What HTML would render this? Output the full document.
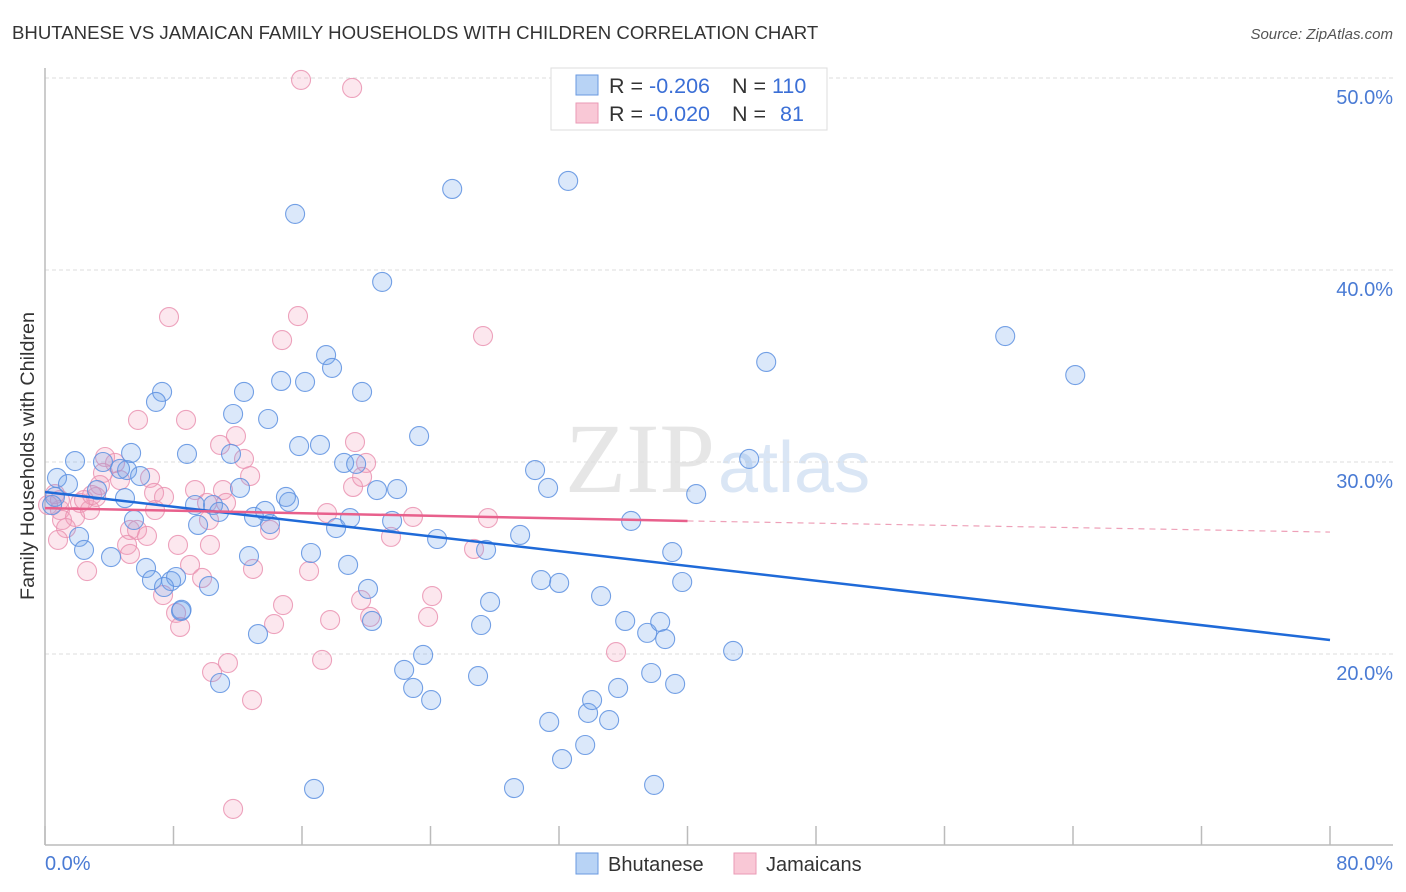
<!DOCTYPE html>
<html><head><meta charset="utf-8"><style>
body{margin:0;background:#fff;font-family:"Liberation Sans",sans-serif;}
svg{display:block}
</style></head><body>
<svg id="c" width="1406" height="892" xmlns="http://www.w3.org/2000/svg">
<text x="12" y="39" font-size="18.6" fill="#333">BHUTANESE VS JAMAICAN FAMILY HOUSEHOLDS WITH CHILDREN CORRELATION CHART</text>
<text x="1393" y="39" font-size="15" fill="#555" font-style="italic" text-anchor="end">Source: ZipAtlas.com</text>
<text x="640" y="492" font-size="100" fill="#e6e6e6" font-family="Liberation Serif,serif" text-anchor="middle">ZIP</text>
<text x="718" y="492" font-size="72" fill="#dae6f5">atlas</text>
<g id="grid"></g>
<g id="axes"></g>
<g id="pts"></g>
<g id="trends"></g>
<text transform="translate(34,456) rotate(-90)" font-size="19.8" fill="#333" text-anchor="middle">Family Households with Children</text>
<g>
<rect x="551" y="68" width="276" height="62" fill="#fff" stroke="#ddd"/>
<rect x="576" y="75" width="22" height="20" fill="#b8d3f5" stroke="#6a9ae0"/>
<rect x="576" y="103" width="22" height="20" fill="#f9c8d6" stroke="#ea9ab5"/>
<text x="609" y="93" font-size="21.5" fill="#333">R = <tspan fill="#3b6fd6">-0.206</tspan><tspan x="732">N = </tspan><tspan fill="#3b6fd6">110</tspan></text>
<text x="609" y="121" font-size="21.5" fill="#333">R = <tspan fill="#3b6fd6">-0.020</tspan><tspan x="732">N = </tspan><tspan x="780" fill="#3b6fd6">81</tspan></text>
</g>
<g>
<rect x="576" y="853" width="22" height="21" fill="#b8d3f5" stroke="#6a9ae0"/>
<text x="608" y="871" font-size="20" fill="#333">Bhutanese</text>
<rect x="734" y="853" width="22" height="21" fill="#f9c8d6" stroke="#ea9ab5"/>
<text x="766" y="871" font-size="20" fill="#333">Jamaicans</text>
</g>
</svg>
<script>
const xTicks=[0,10,20,30,40,50,60,70,80];
const yTicks=[20,30,40,50];
const yTickLabels=["20.0%","30.0%","40.0%","50.0%"];
const blueX=[0.75,1.43,0.62,0.44,1.87,2.12,2.43,4.11,3.61,3.24,5.11,4.67,5.36,5.92,4.98,5.54,7.29,6.91,8.84,6.29,6.66,7.85,8.16,7.41,8.47,10.21,9.34,9.53,10.46,10.84,11.58,12.14,11.71,12.39,13.89,12.7,13.26,10.9,13.01,13.7,14.01,15.19,15.0,14.7,16.19,15.82,17.12,17.5,17.87,15.57,16.56,18.12,18.87,18.99,18.62,19.37,19.74,20.11,20.36,20.67,21.92,21.61,20.99,23.29,22.36,23.54,22.92,24.04,24.41,25.35,26.96,27.15,27.46,27.71,29.58,30.51,31.32,30.89,32.01,31.39,32.19,32.57,33.63,33.81,34.06,34.62,35.12,35.68,36.12,37.49,38.3,38.61,37.74,39.05,39.23,39.67,36.49,40.54,42.84,43.84,44.9,59.78,64.14,16.75,29.2,37.92,8.5];
const blueY=[29.17,28.85,28.18,27.76,30.05,26.1,25.42,25.05,30.0,28.54,29.58,29.64,30.47,29.27,28.12,26.98,33.65,33.13,30.42,24.48,23.85,23.8,24.01,23.49,22.24,23.54,27.76,26.72,27.76,27.4,30.42,28.65,32.5,33.65,32.24,25.1,21.04,18.49,27.14,27.45,26.77,27.92,28.18,34.22,34.17,30.83,30.89,35.57,34.9,42.92,25.26,26.56,24.64,27.08,29.95,29.9,33.65,23.39,21.72,28.54,28.59,26.93,39.38,31.35,19.17,19.95,18.23,17.6,25.99,44.22,18.85,21.51,25.42,22.71,26.2,29.58,28.65,23.85,23.7,16.46,14.53,44.64,15.26,16.93,17.6,23.02,16.56,18.23,21.72,21.1,21.67,20.78,19.01,25.31,18.44,23.75,26.93,28.33,20.16,30.16,35.21,36.56,34.53,12.97,13.02,13.18,22.3];
const pinkX=[15.94,19.12,7.72,15.75,14.76,27.27,5.79,8.78,11.89,10.9,12.39,19.3,19.99,12.77,3.74,4.36,3.61,6.54,6.79,7.41,9.34,11.08,11.27,10.09,5.29,5.73,6.35,5.11,8.28,5.29,0.93,1.06,1.87,2.18,2.8,3.18,1.31,0.81,2.62,2.43,9.03,9.78,7.35,8.16,8.41,10.4,11.39,10.21,12.95,14.82,14.26,16.44,17.75,17.25,19.18,17.56,19.74,21.54,22.91,24.1,23.85,19.68,20.24,26.71,27.58,35.55,12.89,11.71,0.62,0.93,0.19,6.85,10.27,14.01,3.42,2.93,4.67];
const pinkY=[49.9,49.48,37.55,37.6,36.35,36.56,32.19,32.19,31.35,30.89,30.16,31.04,29.95,29.27,30.26,29.95,29.43,29.17,28.39,28.18,28.54,28.54,27.87,27.87,26.46,26.46,26.15,25.68,25.68,25.21,27.5,26.98,27.14,27.87,27.5,28.18,26.56,25.94,24.32,28.02,24.64,23.96,23.07,22.14,21.41,19.06,19.53,26.98,24.43,22.55,21.56,24.32,21.77,19.69,28.7,27.34,29.22,26.1,27.14,23.02,21.93,22.81,21.93,25.47,27.08,20.1,17.6,11.93,28.33,28.02,27.76,27.5,25.68,26.46,28.8,28.28,29.06];
const blueTrend=[0,28.44,80,20.73];
const pinkTrend=[0,27.6,40,26.93,80,26.35];
const NS="http://www.w3.org/2000/svg";
const X=v=>45+v*16.0625, Y=v=>78+(50-v)*19.2;
function mk(tag,at,parent){const e=document.createElementNS(NS,tag);for(const k in at)e.setAttribute(k,at[k]);parent.appendChild(e);return e;}
const grid=document.getElementById('grid'),axes=document.getElementById('axes'),pts=document.getElementById('pts'),tr=document.getElementById('trends');
yTicks.forEach((t,i)=>{
 const l=mk('line',{x1:45,x2:1393,y1:Y(t),y2:Y(t),stroke:'#ddd','stroke-dasharray':'4,3'},grid);
 
 
 const tx=mk('text',{x:1393,y:Y(t)+26,'font-size':20,fill:'#4a7bd4','text-anchor':'end'},axes);
 tx.textContent=yTickLabels[i];
 
 
});
const ax=mk('line',{x1:45,x2:1393,y1:845,y2:845,stroke:'#bbb','stroke-width':1.5},axes);


const ay=mk('line',{x1:45,x2:45,y1:68,y2:845,stroke:'#bbb','stroke-width':1.5},axes);


for(let v=0;v<=80;v+=8){const tk=mk('line',{x1:X(v),x2:X(v),y1:826,y2:845,stroke:'#bbb','stroke-width':1.5},axes);
 
 }
const xl0=mk('text',{x:45,y:870,'font-size':20,fill:'#4a7bd4'},axes);xl0.textContent='0.0%';


const xl1=mk('text',{x:1393,y:870,'font-size':20,fill:'#4a7bd4','text-anchor':'end'},axes);xl1.textContent='80.0%';


pinkX.forEach((x,i)=>{const c=mk('circle',{cx:X(x),cy:Y(pinkY[i]),r:9.5,fill:'rgba(244,160,188,0.25)',stroke:'rgba(234,147,178,0.85)','stroke-width':1.1},pts);
 
 });
blueX.forEach((x,i)=>{const c=mk('circle',{cx:X(x),cy:Y(blueY[i]),r:9.5,fill:'rgba(110,165,235,0.25)',stroke:'rgba(93,144,224,0.85)','stroke-width':1.1},pts);
 
 });
const bt=mk('line',{x1:X(blueTrend[0]),y1:Y(blueTrend[1]),x2:X(blueTrend[2]),y2:Y(blueTrend[3]),stroke:'#1f6ad8','stroke-width':2.5},tr);


const pt=mk('line',{x1:X(pinkTrend[0]),y1:Y(pinkTrend[1]),x2:X(pinkTrend[2]),y2:Y(pinkTrend[3]),stroke:'#e8608c','stroke-width':2.5},tr);


const pd=mk('line',{x1:X(pinkTrend[2]),y1:Y(pinkTrend[3]),x2:X(pinkTrend[4]),y2:Y(pinkTrend[5]),stroke:'#eea0b8','stroke-width':1.2,'stroke-dasharray':'6,5'},tr);


</script>
</body></html>
